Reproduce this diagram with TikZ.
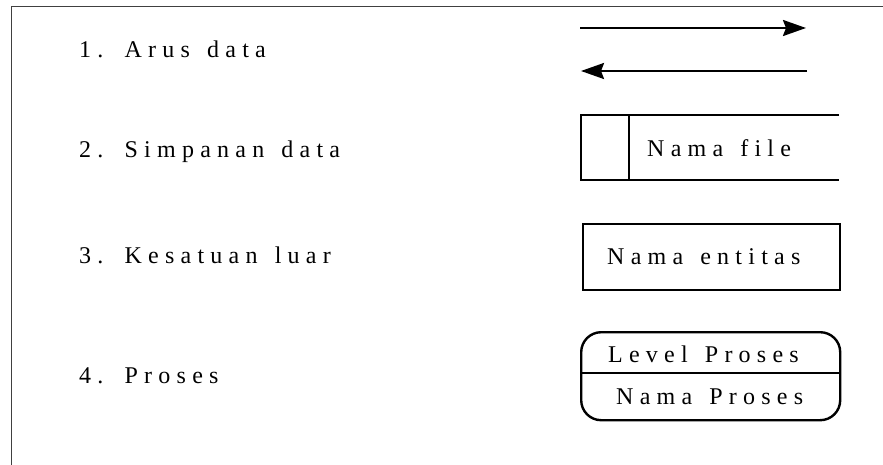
\documentclass[tikz,border=0pt]{standalone}
\usepackage{fontspec}
\setmainfont{Liberation Serif}[LetterSpace=26, WordSpace=1.4]
\usetikzlibrary{arrows.meta}
\tikzset{
  lbl/.style={anchor=base west, inner sep=0pt, font=\fontsize{24}{28}\selectfont, text=black},
  shp/.style={draw=black, line width=2.4pt},
  flow/.style={draw=black, line width=2.4pt, -{Stealth[length=23pt,width=16pt,inset=3pt]}},
  frame/.style={draw=black!75, line width=1pt}
}
\begin{document}
\begin{tikzpicture}[x=1pt,y=-1pt]
\useasboundingbox (0,0) rectangle (883,465);
% frame
\coordinate (fb) at (11,465);
\coordinate (fc) at (11,7);
\coordinate (fr) at (883,7);
\draw[frame] (fb) -- (fc) -- (fr);
% left labels
\node[lbl] (t1) at (79,57.5) {1. Arus data};
\node[lbl] (t2) at (79,158) {2. Simpanan data};
\node[lbl] (t3) at (79,263) {3. Kesatuan luar};
\node[lbl] (t4) at (79,383) {4. Proses};
% 1. data flow
\coordinate (a1s) at (580,28);
\coordinate (a1e) at (806,28);
\coordinate (a2s) at (807,71);
\coordinate (a2e) at (581,71);
\draw[flow] (a1s) -- (a1e);
\draw[flow] (a2s) -- (a2e);
% 2. data store
\coordinate (dsTR) at (839,115);
\coordinate (dsTL) at (581,115);
\coordinate (dsBL) at (581,180);
\coordinate (dsBR) at (839,180);
\coordinate (dsDT) at (629,115);
\coordinate (dsDB) at (629,180);
\draw[shp] (dsTR) -- (dsTL) -- (dsBL) -- (dsBR);
\draw[shp] (dsDT) -- (dsDB);
\node[lbl] (dsname) at (647,157) {Nama file};
% 3. external entity
\node[shp, minimum width=257pt, minimum height=66pt, anchor=north west, inner sep=0pt] (ent) at (582,223) {};
\node[lbl] (entname) at (607,264) {Nama entitas};
% 4. process
\node[shp, rounded corners=20pt, minimum width=259pt, minimum height=88pt, anchor=north west, inner sep=0pt] (proc) at (580,331) {};
\coordinate (pdl) at (580,373);
\coordinate (pdr) at (839,373);
\draw[shp] (pdl) -- (pdr);
\node[lbl] (plevel) at (608,362) {Level Proses};
\node[lbl] (pname) at (616,404) {Nama Proses};
\end{tikzpicture}
\end{document}
